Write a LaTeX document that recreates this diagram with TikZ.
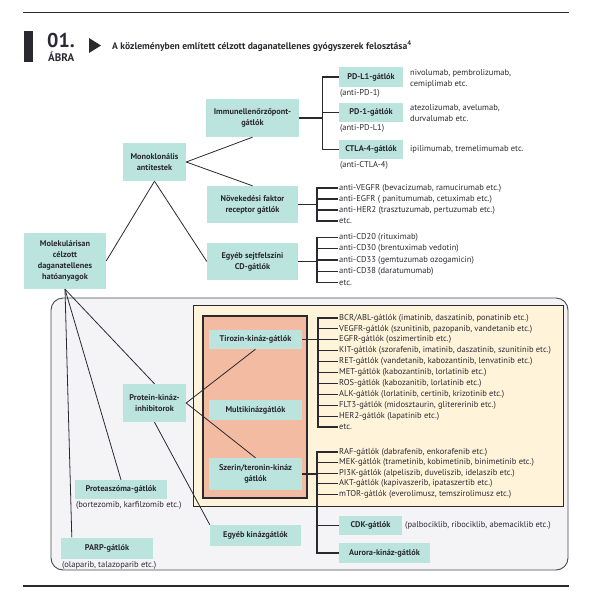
\documentclass[tikz,border=0pt]{standalone}
\usepackage{fontspec}
\setmainfont{PT Sans}
\usetikzlibrary{positioning}

\definecolor{tealbox}{HTML}{BCE4DE}
\definecolor{creambg}{HTML}{FFF4DA}
\definecolor{salmonbg}{HTML}{F2BBA2}
\definecolor{graybg}{HTML}{F4F4F7}
\definecolor{ink}{HTML}{2B2930}

\begin{document}
\begin{tikzpicture}[x=1pt, y=-1pt,
  cat/.style={fill=tealbox, inner sep=0pt, align=center, text=ink,
    font=\fontsize{8.3}{10.8}\selectfont\bfseries},
  item/.style={anchor=west, inner sep=1pt, text=ink, align=left,
    font=\fontsize{8.5}{11}\selectfont},
  link/.style={draw=ink, line width=0.8pt},
  br/.style={draw=ink, line width=1.1pt}]

\useasboundingbox (0,0) rectangle (594,600);

% --- Header ---
\draw[ink, line width=1.3pt] (23,12.5) -- (569,12.5);
\fill[ink] (24,31) rectangle (33,62);
\node[anchor=base west, inner sep=0pt, text=ink, font=\fontsize{20}{20}\selectfont\bfseries]
  (num) at (47,47) {01.};
\node[anchor=base west, inner sep=0pt, text=ink, font=\fontsize{11}{11}\selectfont\bfseries]
  (abra) at (48,61) {ÁBRA};
\fill[ink] (89,38) -- (101,45.5) -- (89,53) -- cycle;
\node[anchor=base west, inner sep=0pt, text=ink, font=\fontsize{9.6}{11}\selectfont\bfseries]
  (title) at (112,49) {A közleményben említett célzott daganatellenes gyógyszerek felosztása\textsuperscript{4}};
\draw[ink, line width=1.3pt] (23,586) -- (569,586);

% --- Background panels ---
\draw[fill=graybg, draw=ink!85, line width=0.9pt, rounded corners=12pt] (51,298) rectangle (568,570);
\draw[fill=creambg, draw=ink, line width=1pt] (193,305) rectangle (563,506);
\draw[fill=salmonbg, draw=ink, line width=1.2pt] (203,316) rectangle (307,498);

% --- Monoclonal antibodies (top) ---
\node[cat, minimum width=82pt, minimum height=56pt] (molek) at (65,261)
  {Molekulárisan\\célzott\\daganatellenes\\hatóanyagok};
\node[cat, minimum width=63pt, minimum height=38pt] (mono) at (154.5,162)
  {Monoklonális\\antitestek};
\node[cat, minimum width=93pt, minimum height=38pt] (immun) at (252.5,118)
  {Immunellenőrzőpont-\\gátlók};
\node[cat, minimum width=91pt, minimum height=37pt] (nov) at (252.5,204.5)
  {Növekedési faktor\\receptor gátlók};
\node[cat, minimum width=91pt, minimum height=37pt] (sejt) at (252.5,261.5)
  {Egyéb sejtfelszíni\\CD-gátlók};

\node[cat, minimum width=64pt, minimum height=20pt] (pdl1) at (371,77) {PD-L1-gátlók};
\node[cat, minimum width=64pt, minimum height=19pt] (pd1) at (371,112.5) {PD-1-gátlók};
\node[cat, minimum width=64pt, minimum height=19pt] (ctla) at (371,149.5) {CTLA-4-gátlók};
\node[item, below=1.5pt of pdl1.south west, anchor=north west] (pdlcap) {(anti-PD-1)};
\node[item, below=1.5pt of pd1.south west, anchor=north west] (pdcap) {(anti-PD-L1)};
\node[item, below=1.5pt of ctla.south west, anchor=north west] (ctlacap) {(anti-CTLA-4)};
\node[item] (pdldrug) at (409,78.5) {nivolumab, pembrolizumab,\\cemiplimab etc.};
\node[item] (pddrug) at (409,113.5) {atezolizumab, avelumab,\\durvalumab etc.};
\node[item] (ctladrug) at (409,149.5) {ipilimumab, tremelimumab etc.};

\node[item] (vegfr) at (338,188) {anti-VEGFR (bevacizumab, ramucirumab etc.)};
\node[item] (egfr) at (338,199) {anti-EGFR ( panitumumab, cetuximab etc.)};
\node[item] (hertwo) at (338,210) {anti-HER2 (trasztuzumab, pertuzumab etc.)};
\node[item] (novetc) at (338,221) {etc.};

\node[item] (cdtw) at (338,237.5) {anti-CD20 (rituximab)};
\node[item] (cdth) at (338,248.8) {anti-CD30 (brentuximab vedotin)};
\node[item] (cdtt) at (338,260) {anti-CD33 (gemtuzumab ozogamicin)};
\node[item] (cdte) at (338,271.3) {anti-CD38 (daratumumab)};
\node[item] (cdetc) at (338,282.5) {etc.};

\draw[link] (molek.east) -- (mono.south);
\draw[link] (mono.east) -- (immun.south);
\draw[link] (mono.east) -- (nov.north);
\draw[link] (mono.south) -- (sejt.west);

\draw[br] (immun.east) -- ++(24,0);
\draw[br] (pdl1.west) -- ++(-16,0) |- (ctla.west);
\draw[br] (pd1.west) -- ++(-16,0);

\draw[br] (nov.east) -- ++(19,0);
\draw[br] (vegfr.west) -- ++(-21,0) |- (novetc.west);
\draw[br] (egfr.west) -- ++(-21,0);
\draw[br] (hertwo.west) -- ++(-21,0);

\draw[br] (sejt.east) -- ++(19,0);
\draw[br] (cdtw.west) -- ++(-21,0) |- (cdetc.west);
\draw[br] (cdth.west) -- ++(-21,0);
\draw[br] (cdtt.west) -- ++(-21,0);
\draw[br] (cdte.west) -- ++(-21,0);

% --- Small molecules (bottom panel) ---
\node[cat, minimum width=63pt, minimum height=38pt] (protein) at (154.5,403)
  {Protein-kináz-\\inhibitorok};
\node[cat, minimum width=92pt, minimum height=19pt] (proteas) at (121,489.5) {Proteaszóma-gátlók};
\node[item, below=1.5pt of proteas.south west, anchor=north west] (proteasdrug)
  {(bortezomib, karfilzomib etc.)};
\node[cat, minimum width=92pt, minimum height=21pt] (parp) at (107,548) {PARP-gátlók};
\node[item, below=1.5pt of parp.south west, anchor=north west] (parpdrug)
  {(olaparib, talazoparib etc.)};
\node[cat, minimum width=91pt, minimum height=21pt] (egyebk) at (255.5,535.5) {Egyéb kinázgátlók};

\node[cat, minimum width=93pt, minimum height=19pt] (tirozin) at (255.5,339.5) {Tirozin-kináz-gátlók};
\node[cat, minimum width=93pt, minimum height=20pt] (multi) at (255.5,410) {Multikinázgátlók};
\node[cat, minimum width=93pt, minimum height=32pt] (szerin) at (255.5,474)
  {Szerin/teronin-kináz\\gátlók};

\node[item] (bcr) at (338,318) {BCR/ABL-gátlók (imatinib, daszatinib, ponatinib etc.)};
\node[item] (vegfrk) at (338,328.9) {VEGFR-gátlók (szunitinib, pazopanib, vandetanib etc.)};
\node[item] (egfrk) at (338,339.8) {EGFR-gátlók (oszimertinib etc.)};
\node[item] (kit) at (338,350.7) {KIT-gátlók (szorafenib, imatinib, daszatinib, szunitinib etc.)};
\node[item] (ret) at (338,361.6) {RET-gátlók (vandetanib, kabozantinib, lenvatinib etc.)};
\node[item] (met) at (338,372.5) {MET-gátlók (kabozantinib, lorlatinib etc.)};
\node[item] (ros) at (338,383.4) {ROS-gátlók (kabozanitib, lorlatinib etc.)};
\node[item] (alk) at (338,394.3) {ALK-gátlók (lorlatinib, certinib, krizotinib etc.)};
\node[item] (flt) at (338,405.2) {FLT3-gátlók (midosztaurin, glitererinib etc.)};
\node[item] (herk) at (338,416.1) {HER2-gátlók (lapatinib etc.)};
\node[item] (tketc) at (338,427) {etc.};

\node[item] (raf) at (338,452) {RAF-gátlók (dabrafenib, enkorafenib etc.)};
\node[item] (mek) at (338,462.6) {MEK-gátlók (trametinib, kobimetinib, binimetinib etc.)};
\node[item] (pik) at (338,473.2) {PI3K-gátlók (alpeliszib, duveliszib, idelaszib etc.)};
\node[item] (akt) at (338,483.8) {AKT-gátlók (kapivaszerib, ipataszertib etc.)};
\node[item] (mtor) at (338,494.4) {mTOR-gátlók (everolimusz, temszirolimusz etc.)};

\node[cat, minimum width=63pt, minimum height=19pt] (cdk) at (370.5,525.5) {CDK-gátlók};
\node[item] (cdkdrug) at (404,525.5) {(palbociklib, ribociklib, abemaciklib etc.)};
\node[cat, minimum width=91pt, minimum height=20pt] (aurora) at (384.5,553) {Aurora-kináz-gátlók};

\draw[link] (molek.south) -- ([xshift=11pt]parp.north west);
\draw[link] (molek.south) -- (proteas.north);
\draw[link] (molek.south) -- (protein.north);
\draw[link] (protein.east) -- (tirozin.south);
\draw[link] (protein.east) -- (szerin.north);
\draw[link] (protein.south) -- (egyebk.north west);

\draw[br] (tirozin.east) -- ++(16,0);
\draw[br] (bcr.west) -- ++(-20,0) |- (tketc.west);
\draw[br] (vegfrk.west) -- ++(-20,0);
\draw[br] (egfrk.west) -- ++(-20,0);
\draw[br] (kit.west) -- ++(-20,0);
\draw[br] (ret.west) -- ++(-20,0);
\draw[br] (met.west) -- ++(-20,0);
\draw[br] (ros.west) -- ++(-20,0);
\draw[br] (alk.west) -- ++(-20,0);
\draw[br] (flt.west) -- ++(-20,0);
\draw[br] (herk.west) -- ++(-20,0);

\draw[br] (szerin.east) -- ++(15,0);
\draw[br] (raf.west) -- ++(-21,0) |- (aurora.west);
\draw[br] (mek.west) -- ++(-21,0);
\draw[br] (pik.west) -- ++(-21,0);
\draw[br] (akt.west) -- ++(-21,0);
\draw[br] (mtor.west) -- ++(-21,0);
\draw[br] (cdk.west) -- ++(-22,0);

\end{tikzpicture}
\end{document}
